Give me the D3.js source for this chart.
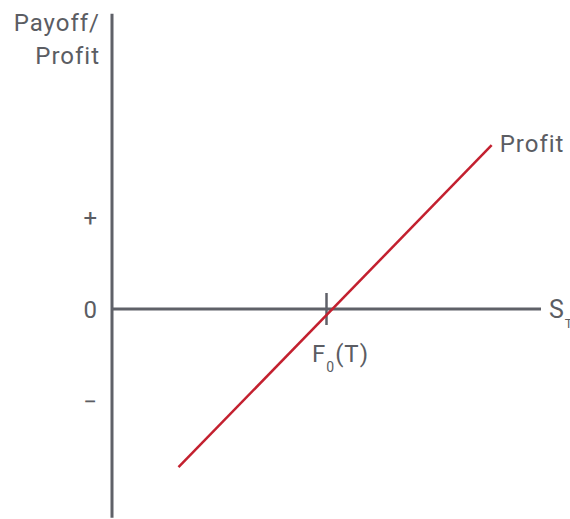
<!DOCTYPE html>
<html>
<head>
<meta charset="utf-8">
<script src="https://cdn.jsdelivr.net/npm/d3@7"></script>
<style>
  body { margin: 0; background: #fff; }
  text { font-family: Roboto, "Noto Sans", sans-serif; fill: #5b5d63; letter-spacing: 1px; }
</style>
</head>
<body>
<svg id="chart" width="570" height="519"></svg>
<script>
// spot price S_T (arbitrary units) and profit values
const profitS = [1.55, 8.85];
const profitV = [-1.72, 1.78];
const strike = 5;            // F0(T)
const yTicks = [1, 0, -1];
const yTickLabels = ["+", "0", "\u2212"];

const svg = d3.select("#chart");
const grey = "#5f6168";
const red = "#c3202f";

// scales
const x = d3.scaleLinear().domain([0, 10]).range([112, 541]);
const y = d3.scaleLinear().domain([-1, 1]).range([401, 217]);

// vertical axis
svg.append("line")
  .attr("x1", x(0)).attr("x2", x(0))
  .attr("y1", y(3.21)).attr("y2", y(-2.27))
  .attr("stroke", grey).attr("stroke-width", 3);

// horizontal axis at 0
svg.append("line")
  .attr("x1", x(0)).attr("x2", x(10))
  .attr("y1", y(0)).attr("y2", y(0))
  .attr("stroke", grey).attr("stroke-width", 3);

// tick at F0(T)
svg.append("line")
  .attr("x1", x(strike)).attr("x2", x(strike))
  .attr("y1", y(0) - 16).attr("y2", y(0) + 16)
  .attr("stroke", grey).attr("stroke-width", 2.5);

// y tick labels
svg.selectAll(".ylab")
  .data(yTicks)
  .enter()
  .append("text")
  .attr("class", "ylab")
  .attr("x", 98)
  .attr("y", (d) => y(d) + 9)
  .attr("text-anchor", "end")
  .attr("font-size", 24)
  .text((d, i) => yTickLabels[i]);

// profit line
const pts = profitS.map((s, i) => [s, profitV[i]]);
svg.append("path")
  .datum(pts)
  .attr("fill", "none")
  .attr("stroke", red)
  .attr("stroke-width", 2.5)
  .attr("d", d3.line().x((d) => x(d[0])).y((d) => y(d[1])));

// labels
svg.append("text")
  .attr("x", 100).attr("y", 31)
  .attr("text-anchor", "end").attr("font-size", 24)
  .text("Payoff/");
svg.append("text")
  .attr("x", 100).attr("y", 64)
  .attr("text-anchor", "end").attr("font-size", 24)
  .text("Profit");

svg.append("text")
  .attr("x", x(profitS[1]) + 8).attr("y", 152)
  .attr("font-size", 24)
  .text("Profit");

const sLab = svg.append("text")
  .attr("x", 549).attr("y", 318)
  .attr("font-size", 25);
sLab.append("tspan").text("S");
sLab.append("tspan").attr("font-size", 13).attr("dy", 10).text("T");

const fLab = svg.append("text")
  .attr("x", 312).attr("y", 362)
  .attr("font-size", 24);
fLab.append("tspan").text("F");
fLab.append("tspan").attr("font-size", 14).attr("dy", 10).text("0");
fLab.append("tspan").attr("dy", -10).text("(T)");
</script>
</body>
</html>
